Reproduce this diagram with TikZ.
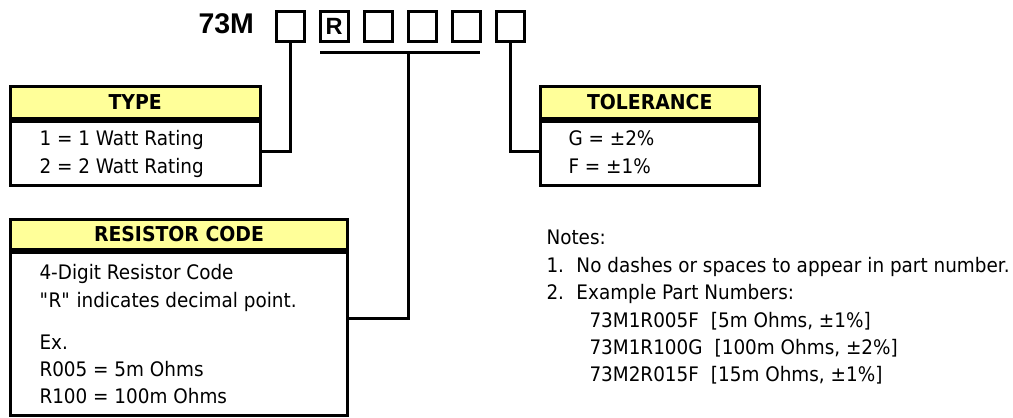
\documentclass[tikz,border=0pt]{standalone}
\usepackage{fontspec}
\setmainfont{DejaVu Sans}[FakeStretch=0.92]
\newfontfamily\arialfont{Liberation Sans}
\usepackage{xcolor}
\usetikzlibrary{positioning, calc}
\definecolor{hdrfill}{RGB}{255,255,153}

\begin{document}
\begin{tikzpicture}[x=1pt, y=-1pt, line width=3pt,
  sq/.style={draw, minimum width=28pt, minimum height=30pt, inner sep=0pt, outer sep=0pt},
  hd/.style={draw, fill=hdrfill, inner sep=0pt, outer sep=0pt,
             font=\fontsize{20.5}{24}\selectfont\bfseries},
  bd/.style={draw, inner sep=0pt, outer sep=0pt},
  tx/.style={anchor=base west, inner sep=0pt, font=\fontsize{20}{24}\selectfont}]
\useasboundingbox (0,0) rectangle (1013,418);

% part number boxes
\node[anchor=base west, inner sep=0pt,
      font=\arialfont\bfseries\fontsize{28.5}{32}\selectfont] (pn) at (197,33) {73M};
\node[sq] (c1) at (290,26) {};
\node[sq, font=\arialfont\bfseries\fontsize{23.5}{26}\selectfont] (c2) at (334,26) {R};
\node[sq] (c3) at (378,26) {};
\node[sq] (c4) at (422,26) {};
\node[sq] (c5) at (466,26) {};
\node[sq] (c6) at (510,26) {};

% type
\node[hd, minimum width=249.5pt, minimum height=32pt] (typehd) at (135.25,102.5) {TYPE};
\node[bd, minimum width=249.5pt, minimum height=64.5pt, below=2.5pt of typehd] (typebd) {};
\node[tx] (type1) at (38,145) {1 = 1 Watt Rating};
\node[tx] (type2) at (38,173) {2 = 2 Watt Rating};

% tolerance
\node[hd, minimum width=219.5pt, minimum height=32pt] (tolhd) at (649.75,102.5) {TOLERANCE};
\node[bd, minimum width=219.5pt, minimum height=64.5pt, below=2.5pt of tolhd] (tolbd) {};
\node[tx] (tol1) at (567,145) {G = ±2\%};
\node[tx] (tol2) at (567,173) {F = ±1\%};

% resistor code
\node[hd, minimum width=337pt, minimum height=30pt] (rchd) at (179,234.5) {RESISTOR CODE};
\node[bd, minimum width=337pt, minimum height=163.5pt, below=2.5pt of rchd] (rcbd) {};
\node[tx] (rc1) at (38,279) {4-Digit Resistor Code};
\node[tx] (rc2) at (38,307) {\textquotedbl R\textquotedbl{} indicates decimal point.};
\node[tx] (rc3) at (38,349) {Ex.};
\node[tx] (rc4) at (38,376) {R005 = 5m Ohms};
\node[tx] (rc5) at (38,403) {R100 = 100m Ohms};

% notes
\node[tx] (notes) at (545,244) {Notes:};
\node[tx] (note1) at (545,272) {\makebox[30pt][l]{1.}No dashes or spaces to appear in part number.};
\node[tx] (note2) at (545,299) {\makebox[30pt][l]{2.}Example Part Numbers:};
\node[tx] (ex1) at (588,327) {73M1R005F\hspace{12pt}[5m Ohms, ±1\%]};
\node[tx] (ex2) at (588,354) {73M1R100G\hspace{12pt}[100m Ohms, ±2\%]};
\node[tx] (ex3) at (588,381.5) {73M2R015F\hspace{12pt}[15m Ohms, ±1\%]};

% connectors
\coordinate (bar) at (408.5,52.5);
\draw (c1.south) |- ([yshift=1.75pt]typebd.east);
\draw (c2.south west |- bar) -- (c5.south east |- bar);
\draw (bar) |- ([yshift=15.25pt]rcbd.east);
\draw (c6.south) |- ([yshift=1.75pt]tolbd.west);
\end{tikzpicture}
\end{document}
